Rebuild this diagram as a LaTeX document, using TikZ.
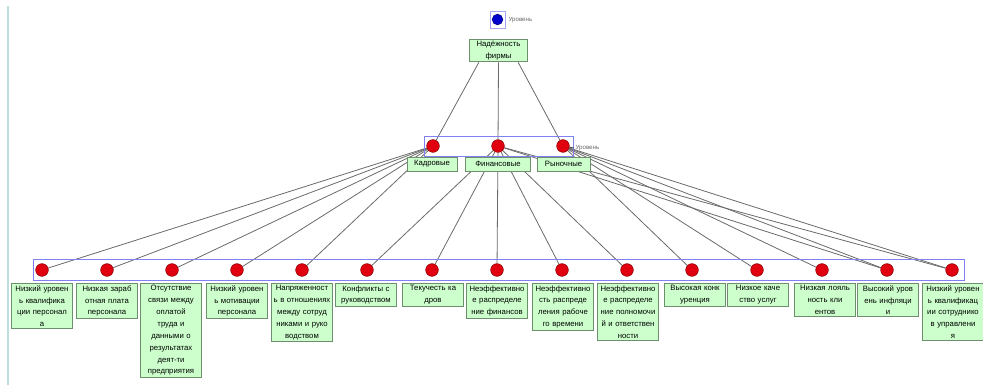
\documentclass[tikz,border=0pt]{standalone}
\usepackage{fontspec}
\setmainfont{Liberation Sans}
\usetikzlibrary{calc,backgrounds}
\definecolor{boxgreen}{HTML}{CCFFCC}
\definecolor{boxedge}{HTML}{6E8F6E}
\definecolor{dotred}{HTML}{E00010}
\definecolor{dotedge}{HTML}{8A0000}
\definecolor{grpblue}{HTML}{8080F0}
\definecolor{linkgray}{HTML}{6A6A6A}
\definecolor{railgray}{HTML}{BFDCDC}

\begin{document}
\begin{tikzpicture}[x=0.75pt,y=-0.75pt,
  crit/.style={draw=boxedge,fill=boxgreen,line width=0.7pt,anchor=north,text width=43.5pt,
    align=center,inner xsep=1pt,inner ysep=1.5pt,font=\fontsize{5.8}{8.9}\selectfont},
  cat/.style={draw=boxedge,fill=boxgreen,line width=0.7pt,inner xsep=2pt,inner ysep=1.5pt,
    minimum height=10.5pt,font=\fontsize{5.8}{8}\selectfont},
  dot/.style={circle,draw=dotedge,fill=dotred,minimum size=9.5pt,inner sep=0pt},
  grp/.style={draw=grpblue,line width=0.6pt,inner sep=0pt},
  lnk/.style={linkgray,line width=0.6pt},
  lvl/.style={font=\fontsize{4.6}{5}\selectfont,text=black!60,inner sep=1pt,anchor=west}]
\useasboundingbox (0,0) rectangle (983,385);
\draw[railgray,line width=1.5pt] (8,6) -- (8,385);
% goal
\node[draw=grpblue!70,fill=white,minimum width=11pt,minimum height=12.5pt,inner sep=0pt] (top) at (497.5,19.5) {};
\node[circle,fill=blue!80!black,draw=blue!50!black,minimum size=8pt,inner sep=0pt] (topdot) at (top) {};
\node[lvl] (toplvl) at (507,20) {Уровень};
\node[crit,anchor=center,text width=42pt] (g) at (498.5,50.5) {Надёжность\\фирмы};
% level 2
\node[grp,minimum width=111.75pt,minimum height=15pt] (lv2) at (498.5,146) {};
\node[dot] (r1) at (433,146) {}; \node[dot] (r2) at (498,146) {}; \node[dot] (r3) at (563,146) {};
\node[cat,minimum width=37.5pt] (f1) at (432,164) {Кадровые};
\node[cat,minimum width=48.75pt] (f2) at (498,164) {Финансовые};
\node[cat,minimum width=39.75pt] (f3) at (563.5,164) {Рыночные};
\node[lvl] (lvl2) at (574,148) {Уровень};
\draw[black!75,line width=0.6pt] (r3) -- (lvl2.west);
% level 3
\node[grp,minimum width=698.25pt,minimum height=16pt] (lv3) at (498.5,270) {};
\node[dot] (s1) at (42,270) {}; \node[dot] (s2) at (107,270) {}; \node[dot] (s3) at (172,270) {};
\node[dot] (s4) at (237,270) {}; \node[dot] (s5) at (302,270) {}; \node[dot] (s6) at (367,270) {};
\node[dot] (s7) at (432,270) {}; \node[dot] (s8) at (497,270) {}; \node[dot] (s9) at (562,270) {};
\node[dot] (s10) at (627,270) {}; \node[dot] (s11) at (692,270) {}; \node[dot] (s12) at (757,270) {};
\node[dot] (s13) at (822,270) {}; \node[dot] (s14) at (887,270) {}; \node[dot] (s15) at (952,270) {};
\node[crit] (t1) at (42,283) {Низкий уровен\\ь квалифика\\ции персонал\\а};
\node[crit] (t2) at (107,283) {Низкая зараб\\отная плата\\персонала};
\node[crit] (t3) at (171,283) {Отсутствие\\связи между\\оплатой\\труда и\\данными о\\результатах\\деят-ти\\предприятия};
\node[crit] (t4) at (237,283) {Низкий уровен\\ь мотивации\\персонала};
\node[crit] (t5) at (302,283) {Напряженност\\ь в отношениях\\между сотруд\\никами и руко\\водством};
\node[crit] (t6) at (366,283) {Конфликты с\\руководством};
\node[crit] (t7) at (433,283) {Текучесть ка\\дров};
\node[crit] (t8) at (497,283) {Неэффективно\\е распределе\\ние финансов};
\node[crit] (t9) at (563,283) {Неэффективно\\сть распреде\\ления рабоче\\го времени};
\node[crit] (t10) at (628,283) {Неэффективно\\е распределе\\ние полномочи\\й и ответствен\\ности};
\node[crit] (t11) at (695,283) {Высокая конк\\уренция};
\node[crit] (t12) at (758,283) {Низкое каче\\ство услуг};
\node[crit] (t13) at (825,283) {Низкая лояль\\ность кли\\ентов};
\node[crit] (t14) at (888,283) {Высокий уров\\ень инфляци\\и};
\node[crit] (t15) at (953,283) {Низкий уровен\\ь квалификац\\ии сотруднико\\в управлени\\я};
% links
\begin{scope}[on background layer]
\draw[lnk] ($(g.south)!0.66!(g.south west)$) -- (r1); \draw[lnk] (g.south) -- (r2);
\draw[lnk] ($(g.south)!0.66!(g.south east)$) -- (r3);
\draw[lnk] (s1)--(r1); \draw[lnk] (s2)--(r1); \draw[lnk] (s3)--(r1); \draw[lnk] (s4)--(r1); \draw[lnk] (s5)--(r1);
\draw[lnk] (s6)--(r2); \draw[lnk] (s7)--(r2); \draw[lnk] (s8)--(r2); \draw[lnk] (s9)--(r2); \draw[lnk] (s10)--(r2);
\draw[lnk] (s11)--(r3); \draw[lnk] (s12)--(r3); \draw[lnk] (s13)--(r3); \draw[lnk] (s14)--(r3); \draw[lnk] (s15)--(r3);
\draw[lnk] (s14)--(r2); \draw[lnk] (s15)--(r2);
\end{scope}
\end{tikzpicture}
\end{document}
